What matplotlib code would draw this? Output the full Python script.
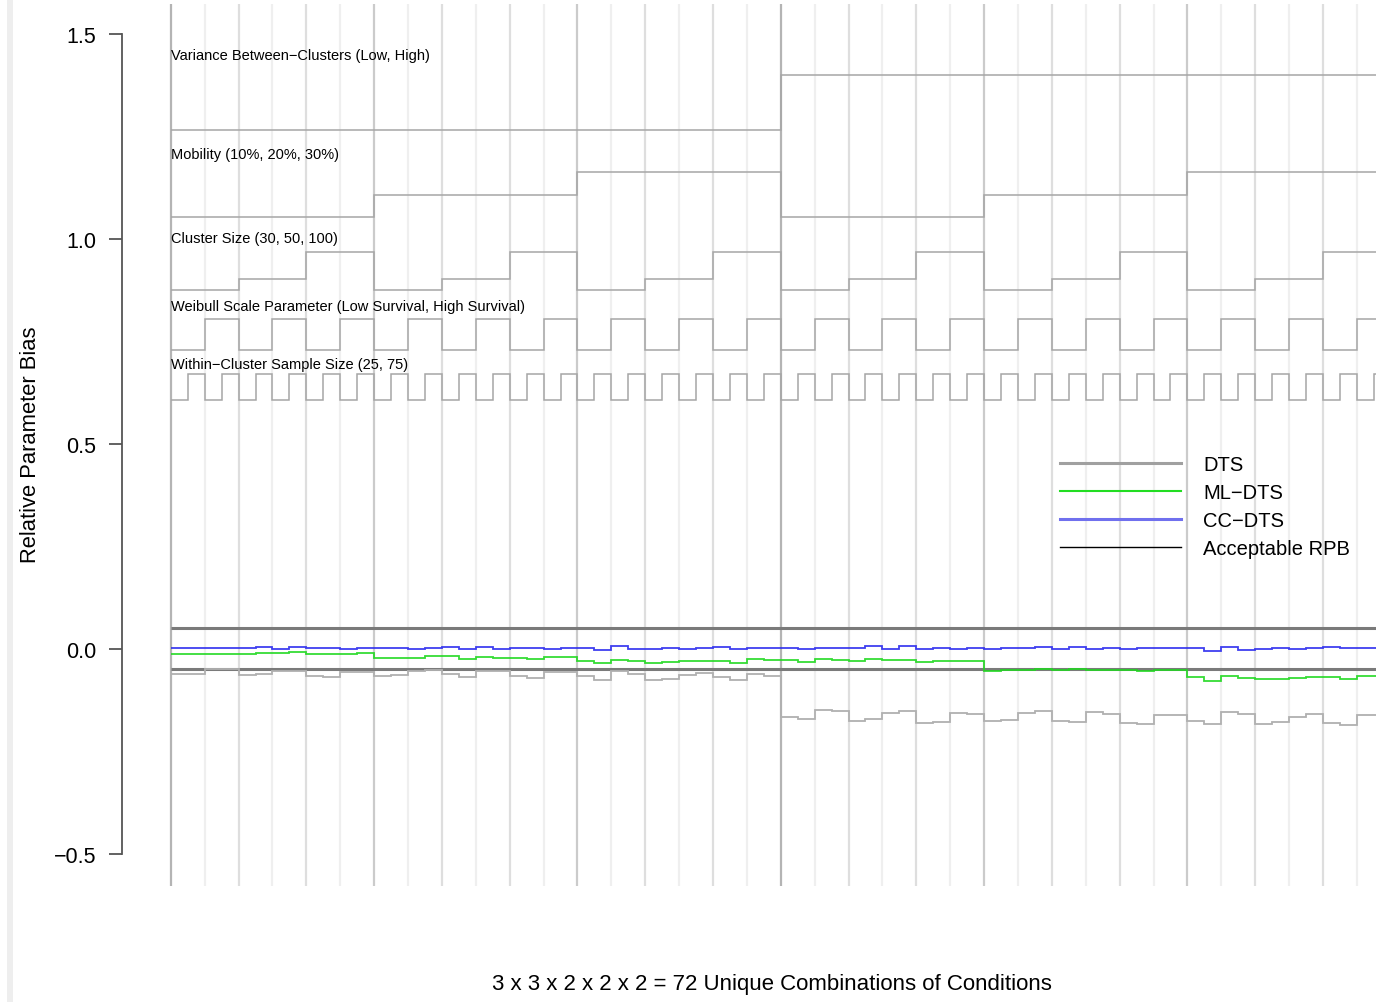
import numpy as np
import matplotlib.pyplot as plt
from matplotlib.lines import Line2D
from matplotlib.patches import Rectangle

plt.rcParams['font.family'] = ['Liberation Sans', 'DejaVu Sans']

# Relative parameter bias for the 72 conditions
dts = [-0.061, -0.061, -0.050, -0.050, -0.063, -0.061, -0.053, -0.053, -0.065, -0.068, -0.055, -0.055,
       -0.065, -0.063, -0.053, -0.051, -0.061, -0.068, -0.054, -0.053, -0.067, -0.071, -0.057, -0.057,
       -0.065, -0.076, -0.053, -0.061, -0.076, -0.073, -0.063, -0.059, -0.069, -0.076, -0.061, -0.065,
       -0.167, -0.171, -0.148, -0.151, -0.176, -0.171, -0.157, -0.152, -0.181, -0.177, -0.157, -0.159,
       -0.176, -0.173, -0.157, -0.152, -0.175, -0.177, -0.154, -0.159, -0.181, -0.182, -0.160, -0.160,
       -0.175, -0.183, -0.153, -0.159, -0.183, -0.179, -0.167, -0.159, -0.181, -0.185, -0.160, -0.160]

ml_dts = [-0.011, -0.011, -0.011, -0.011, -0.011, -0.009, -0.009, -0.008, -0.012, -0.012, -0.012, -0.010,
          -0.021, -0.021, -0.021, -0.018, -0.018, -0.024, -0.019, -0.021, -0.022, -0.024, -0.019, -0.020,
          -0.029, -0.035, -0.027, -0.030, -0.034, -0.032, -0.030, -0.029, -0.030, -0.034, -0.025, -0.027,
          -0.027, -0.032, -0.025, -0.027, -0.029, -0.025, -0.026, -0.026, -0.031, -0.030, -0.029, -0.029,
          -0.054, -0.051, -0.051, -0.049, -0.051, -0.048, -0.051, -0.051, -0.051, -0.054, -0.051, -0.051,
          -0.069, -0.077, -0.065, -0.071, -0.073, -0.072, -0.071, -0.068, -0.069, -0.072, -0.067, -0.067]

cc_dts = [0.002, 0.002, 0.002, 0.002, 0.002, 0.006, 0.000, 0.004, 0.002, 0.002, -0.001, 0.002,
          0.002, 0.002, 0.001, 0.002, 0.006, 0.000, 0.006, 0.001, 0.002, 0.002, -0.001, 0.002,
          0.002, -0.002, 0.007, -0.001, 0.000, 0.002, 0.001, 0.002, 0.004, 0.001, 0.002, 0.002,
          0.002, -0.001, 0.002, 0.002, 0.002, 0.007, 0.001, 0.007, -0.001, 0.002, -0.001, 0.002,
          0.000, 0.002, 0.002, 0.004, 0.001, 0.006, 0.001, 0.002, 0.001, 0.002, 0.002, 0.002,
          0.003, -0.004, 0.004, -0.002, -0.001, 0.002, 0.000, 0.003, 0.004, 0.002, 0.003, 0.003]

# Factor indicator levels (drawn above the data)
variance_levels = [1.266, 1.40]
mobility_levels = [1.054, 1.107, 1.163]
cluster_levels = [0.876, 0.902, 0.968]
weibull_levels = [0.729, 0.805]
within_levels = [0.607, 0.671]

factor_labels = ['Variance Between\u2212Clusters (Low, High)',
                 'Mobility (10%, 20%, 30%)',
                 'Cluster Size (30, 50, 100)',
                 'Weibull Scale Parameter (Low Survival, High Survival)',
                 'Within\u2212Cluster Sample Size (25, 75)']

acceptable_rpb = [-0.05, 0.05]

series_names = ['DTS', 'ML\u2212DTS', 'CC\u2212DTS', 'Acceptable RPB']


def design(levels, each, times):
    return np.tile(np.repeat(levels, each), times)


W, H = 1376, 1003
fig = plt.figure(figsize=(W / 100, H / 100), dpi=100)
ax = fig.add_axes([122 / W, (H - 887) / H, (W - 122) / W, 882 / H])
fig.add_artist(Rectangle((7 / W, 0), 6 / W, 1, transform=fig.transFigure,
                         color='#eeeeee', lw=0, zorder=0))

edges = np.arange(1, 74)

# vertical guide lines at every Weibull block, darker for higher factors
for x in range(1, 72, 2):
    if (x - 1) % 36 == 0:
        c = '#b4b4b4'
    elif (x - 1) % 12 == 0:
        c = '#cbcbcb'
    elif (x - 1) % 4 == 0:
        c = '#dedede'
    else:
        c = '#efefef'
    ax.axvline(x, color=c, lw=1.6, zorder=1)

factors = [design(variance_levels, 36, 1),
           design(mobility_levels, 12, 2),
           design(cluster_levels, 4, 6),
           design(weibull_levels, 2, 18),
           design(within_levels, 1, 36)]
label_y = [1.449, 1.208, 1.003, 0.837, 0.696]
for vals, lab, ly in zip(factors, factor_labels, label_y):
    ax.stairs(vals, edges, baseline=None, color='#a6a6a6', lw=1.1, zorder=2)
    ax.text(1, ly, lab, fontsize=10.5, ha='left', va='center', zorder=3)

ax.hlines(acceptable_rpb, 1, 73, color='#7a7a7a', lw=2.2, zorder=3)

ax.stairs(dts, edges, baseline=None, color='#b0b0b0', lw=1.3, zorder=4)
ax.stairs(ml_dts, edges, baseline=None, color='#1ed81e', lw=1.3, alpha=0.9, zorder=5)
ax.stairs(cc_dts, edges, baseline=None, color='#2a2aee', lw=1.3, alpha=0.9, zorder=6)

ax.set_xlim(-1.88, 72.13)
ax.set_ylim(-0.578, 1.573)
ax.set_xticks([])
ax.set_yticks([-0.5, 0.0, 0.5, 1.0, 1.5])
ax.set_yticklabels(['\u22120.5', '0.0', '0.5', '1.0', '1.5'])
ax.tick_params(axis='y', length=9.5, width=1.3, color='#555555', pad=9, labelsize=15.5)
for s in ['top', 'right', 'bottom']:
    ax.spines[s].set_visible(False)
ax.spines['left'].set_bounds(-0.5, 1.5)
ax.spines['left'].set_color('#555555')
ax.spines['left'].set_linewidth(1.3)

ax.set_xlabel('3 x 3 x 2 x 2 x 2 = 72 Unique Combinations of Conditions', fontsize=16)
ax.xaxis.set_label_coords((772 - 122) / 1254, (887 - 974) / 882)
ax.set_ylabel('Relative Parameter Bias', fontsize=15.8)
ax.yaxis.set_label_coords((41 - 122) / 1254, (887 - 445) / 882)

handles = [Line2D([], [], color='#a0a0a0', lw=2.2),
           Line2D([], [], color='#22dd22', lw=1.5),
           Line2D([], [], color='#7070ee', lw=2.2),
           Line2D([], [], color='black', lw=1.0)]
ax.legend(handles, series_names, loc='upper left',
          bbox_to_anchor=(1060 / W, 1 - 456 / H), bbox_transform=fig.transFigure,
          frameon=False, borderpad=0, borderaxespad=0, fontsize=14.5,
          handlelength=6.0, handletextpad=1.1, labelspacing=0.45)

fig.savefig('out.png', dpi=100)
